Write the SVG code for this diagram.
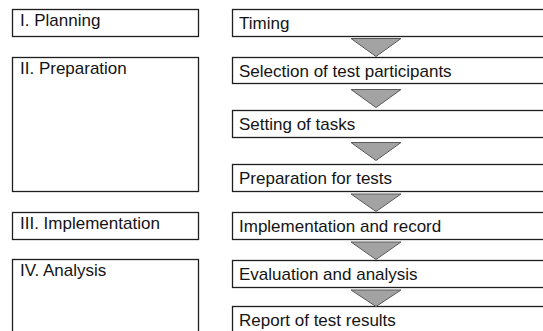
<svg xmlns="http://www.w3.org/2000/svg" width="543" height="331" viewBox="0 0 543 331">
  <style>
    .box { fill: #ffffff; stroke: #1e1e1e; stroke-width: 1.3; }
    .lbl { font-family: "Liberation Sans", Arial, sans-serif; font-size: 17px; fill: #141414; }
    .arrow { fill: #a3a3a3; stroke: #5a5a5a; stroke-width: 1; stroke-linejoin: miter; }
  </style>
  <rect width="543" height="331" fill="#ffffff"/>

  <!-- Phases (left column) -->
  <g id="phase-planning">
    <rect class="box" x="12.5" y="9.5" width="186" height="27"/>
    <text class="lbl" x="20" y="26">I. Planning</text>
  </g>
  <g id="phase-preparation">
    <rect class="box" x="12.5" y="57.5" width="186" height="134"/>
    <text class="lbl" x="20" y="74">II. Preparation</text>
  </g>
  <g id="phase-implementation">
    <rect class="box" x="12.5" y="212.5" width="186" height="27"/>
    <text class="lbl" x="20" y="229">III. Implementation</text>
  </g>
  <g id="phase-analysis">
    <rect class="box" x="12.5" y="259.5" width="186" height="90"/>
    <text class="lbl" x="20" y="276">IV. Analysis</text>
  </g>

  <!-- Steps (right column, running past the right edge) -->
  <g id="step-timing">
    <rect class="box" x="232.5" y="9.5" width="330" height="27"/>
    <text class="lbl" x="239" y="29">Timing</text>
  </g>
  <g id="step-selection">
    <rect class="box" x="232.5" y="57.5" width="330" height="26"/>
    <text class="lbl" x="239" y="77">Selection of test participants</text>
  </g>
  <g id="step-tasks">
    <rect class="box" x="232.5" y="110.5" width="330" height="27"/>
    <text class="lbl" x="239" y="130">Setting of tasks</text>
  </g>
  <g id="step-prep-tests">
    <rect class="box" x="232.5" y="164.5" width="330" height="27"/>
    <text class="lbl" x="239" y="184">Preparation for tests</text>
  </g>
  <g id="step-implementation">
    <rect class="box" x="232.5" y="212.5" width="330" height="27"/>
    <text class="lbl" x="239" y="232">Implementation and record</text>
  </g>
  <g id="step-evaluation">
    <rect class="box" x="232.5" y="260.5" width="330" height="27"/>
    <text class="lbl" x="239" y="280">Evaluation and analysis</text>
  </g>
  <g id="step-report">
    <rect class="box" x="232.5" y="306.5" width="330" height="40"/>
    <text class="lbl" x="239" y="326">Report of test results</text>
  </g>

  <!-- Flow arrows between steps -->
  <g id="connectors">
    <polygon class="arrow" points="351,38.5 401,38.5 376,56.5"/>
    <polygon class="arrow" points="351,89.5 401,89.5 376,107.5"/>
    <polygon class="arrow" points="351,142.5 401,142.5 376,160.5"/>
    <polygon class="arrow" points="351,194 401,194 376,211.5"/>
    <polygon class="arrow" points="351,242 401,242 376,259.5"/>
    <polygon class="arrow" points="351,290 401,290 376,306.5"/>
  </g>
</svg>
